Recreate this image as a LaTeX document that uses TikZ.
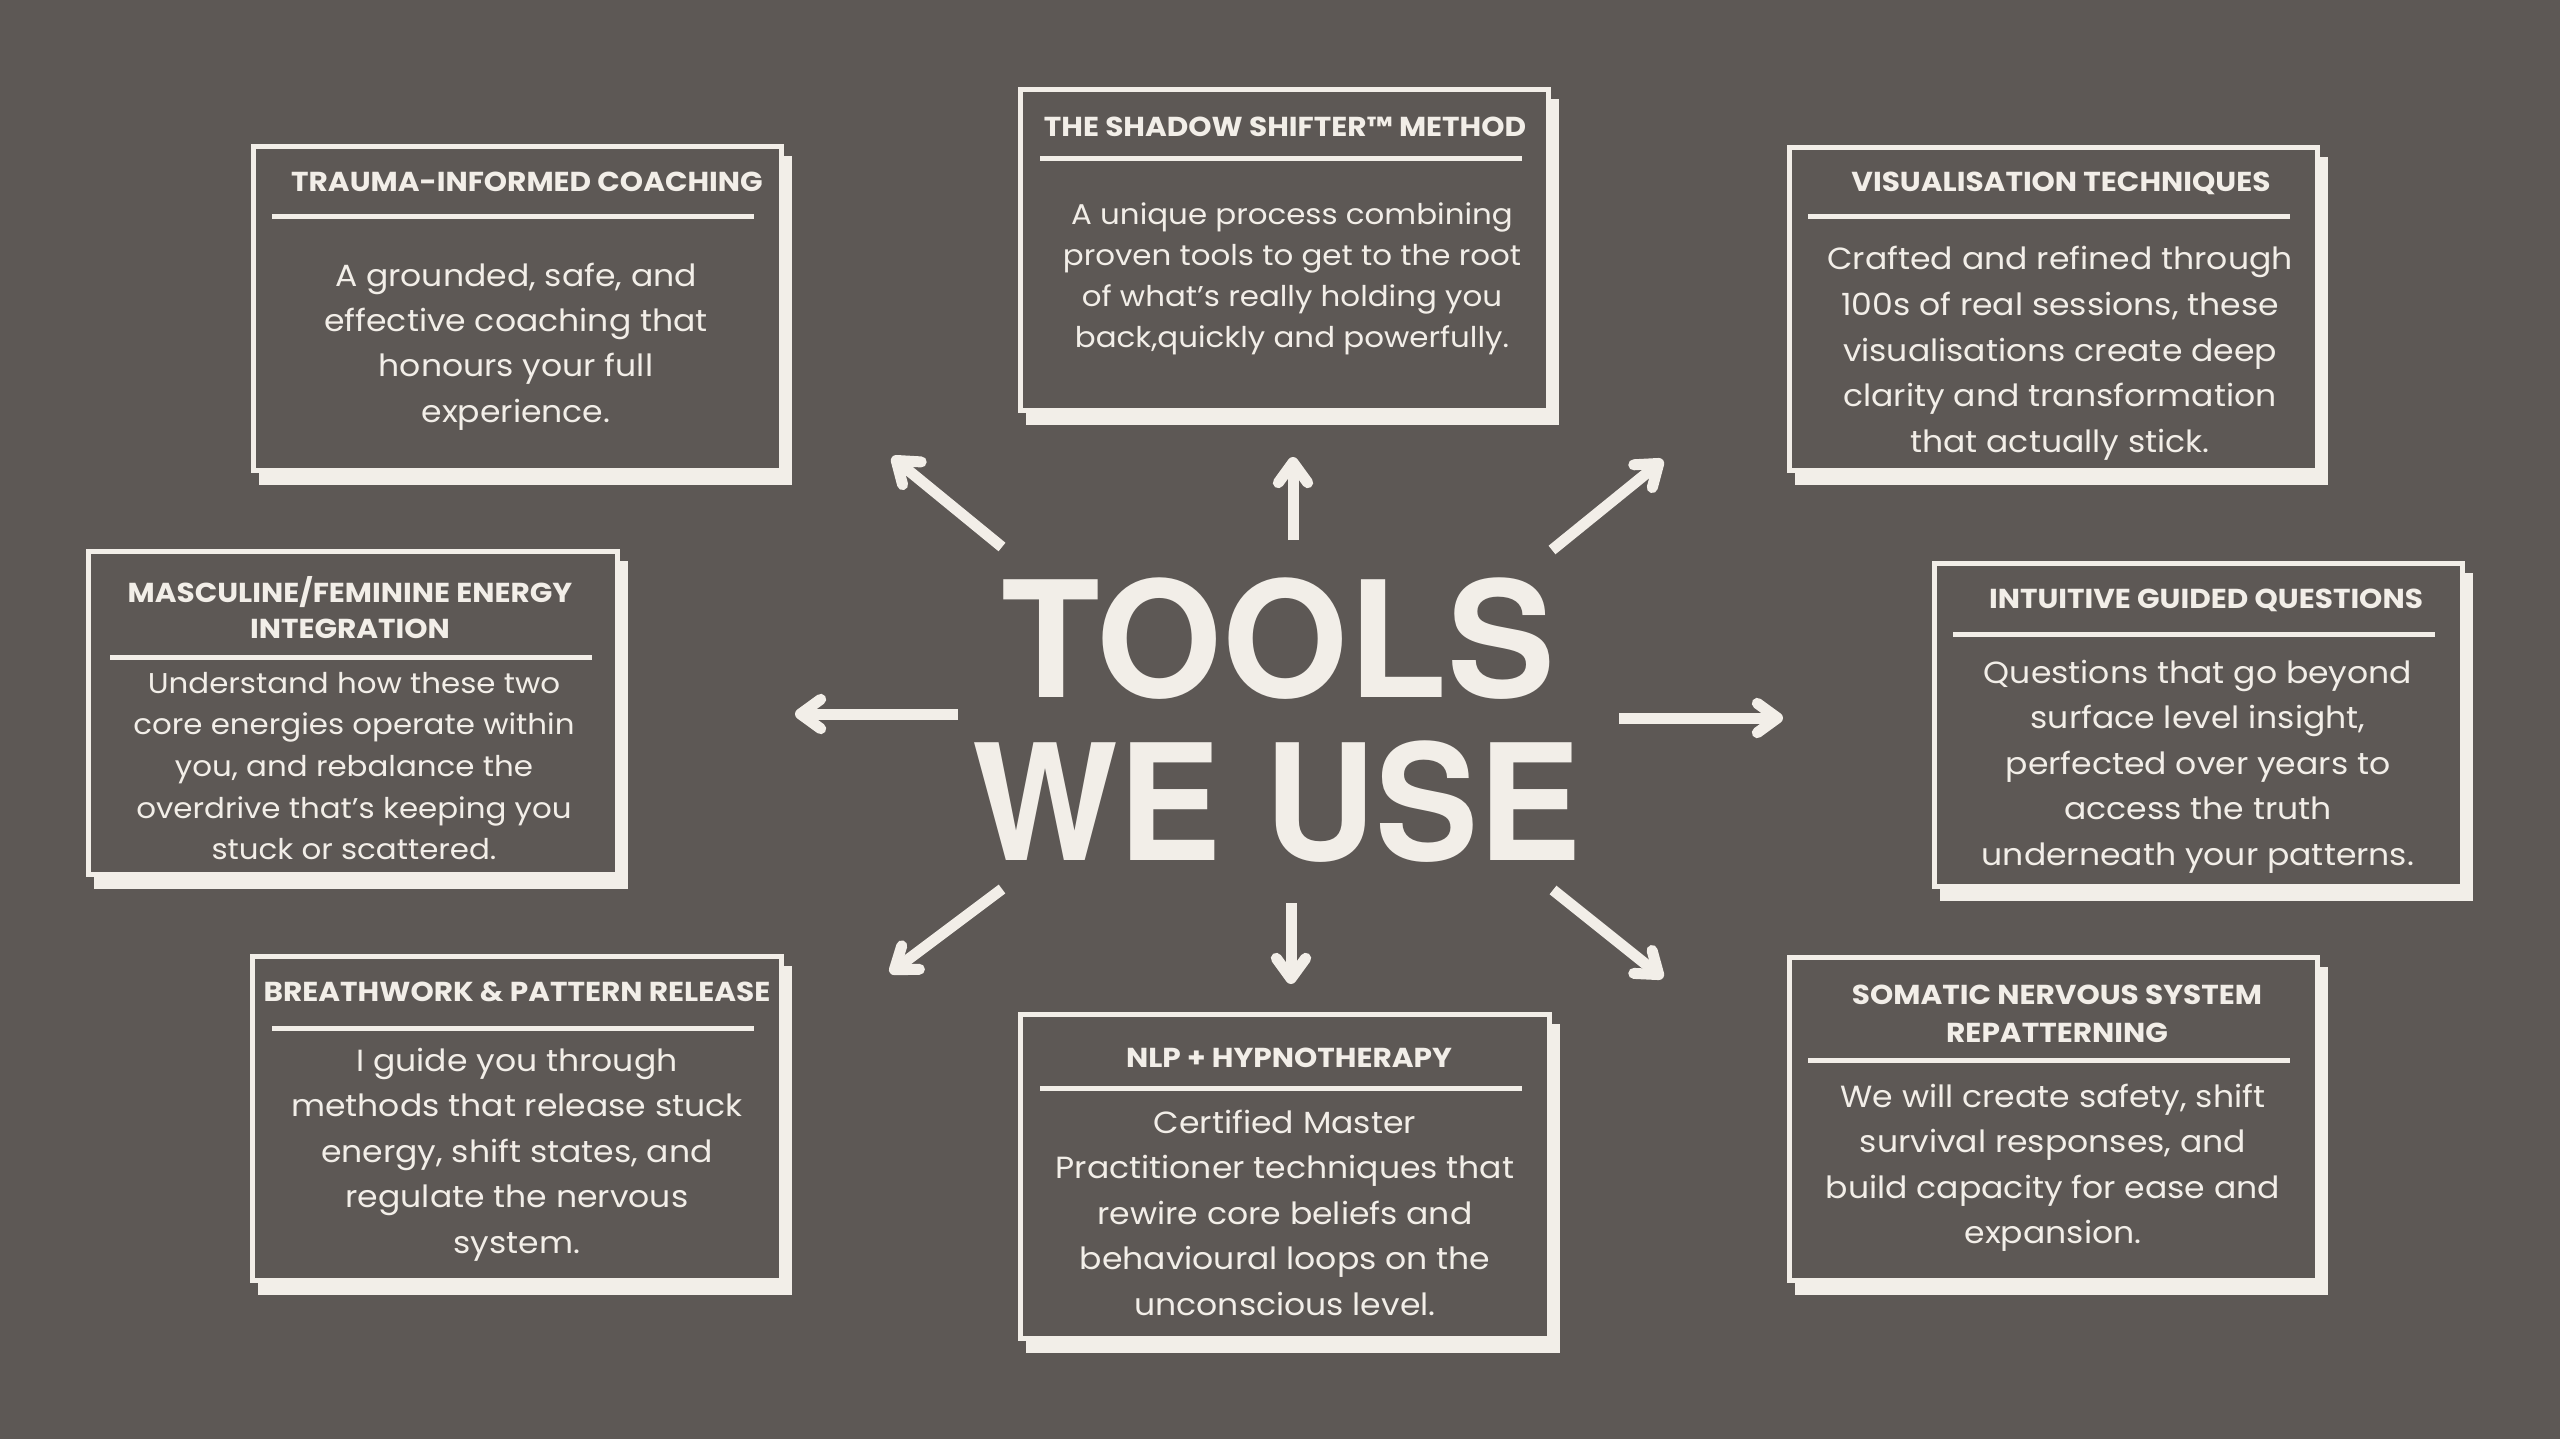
\documentclass[tikz,border=0pt]{standalone}
\usepackage{fontspec}
\setmainfont{Poppins}[FakeStretch=1.08]
\newfontfamily\headfont{TeX Gyre Heros}
\usetikzlibrary{calc}
\definecolor{bg}{HTML}{5D5855}
\definecolor{cream}{HTML}{F2EEE8}
\tikzset{
  shadowbox/.style={fill=cream, inner sep=0pt, outer sep=0pt},
  mainbox/.style={fill=bg, draw=cream, line width=5pt, inner sep=0pt, outer sep=0pt},
  rulebar/.style={draw=cream, line width=5pt},
  ttl/.style={text=cream, font=\fontsize{27.4}{31}\selectfont\bfseries, anchor=base, inner sep=0pt},
  bodyL/.style={text=cream, font=\fontsize{30.6}{36}\selectfont, anchor=base, inner sep=0pt},
  bodyS/.style={text=cream, font=\fontsize{28.6}{33}\selectfont, anchor=base, inner sep=0pt},
  shaft/.style={draw=cream, line width=11pt, line cap=butt},
  head/.style={draw=cream, line width=11pt, line cap=round, line join=round},
  bigword/.style={text=cream, anchor=base, inner sep=0pt, font=\headfont\bfseries\fontsize{161.6}{170}\selectfont},
}
% card: name, L, T, R, B
\newcommand\card[5]{%
  \node[shadowbox, minimum width={#4-#2}, minimum height={#5-#3}] (#1s) at ({(#2+#4)/2+8},{(#3+#5)/2+12}) {};
  \node[mainbox, minimum width={#4-#2-5}, minimum height={#5-#3-5}] (#1) at ({(#2+#4)/2},{(#3+#5)/2}) {};
}
% arrow: tail, tip
\newcommand\pointer[2]{%
  \coordinate (#2c) at ($(#2)!5.5pt!(#1)$);
  \draw[shaft] (#1) -- (#2c);
  \draw[head] ($(#2c)!25pt!36:(#1)$) -- (#2c) -- ($(#2c)!25pt!-36:(#1)$);
}
\begin{document}
\begin{tikzpicture}[x=1pt,y=-1pt]
\fill[bg] (0,0) rectangle (2560,1439);
\useasboundingbox (0,0) rectangle (2560,1439);

% ---------- cards ----------
\card{b1}{251}{144}{784}{473}
\card{b2}{1018}{87}{1551}{413}
\card{b3}{1787}{145}{2320}{473}
\card{b4}{86}{549}{620}{877}
\card{b5}{1932}{561}{2465}{889}
\card{b6}{250}{954}{784}{1283}
\card{b7}{1018}{1012}{1552}{1341}
\card{b8}{1787}{955}{2320}{1283}

% ---------- header rules ----------
\draw[rulebar] (272,217) -- (754,217);
\draw[rulebar] (1040,159) -- (1522,159);
\draw[rulebar] (1808,217) -- (2290,217);
\draw[rulebar] (110,657) -- (592,657);
\draw[rulebar] (1953,634) -- (2435,634);
\draw[rulebar] (272,1028) -- (754,1028);
\draw[rulebar] (1040,1088) -- (1522,1088);
\draw[rulebar] (1808,1060) -- (2290,1060);

% ---------- titles ----------
\node[ttl] (b1h) at (527,192) {TRAUMA-INFORMED COACHING};
\node[ttl] (b2h) at (1285,137) {THE SHADOW SHIFTER™ METHOD};
\node[ttl] (b3h) at (2061,192) {VISUALISATION TECHNIQUES};
\node[ttl] (b4h) at (350,602) {MASCULINE/FEMININE ENERGY};
\node[ttl] (b4h2) at (350,638) {INTEGRATION};
\node[ttl] (b5h) at (2206,608) {INTUITIVE GUIDED QUESTIONS};
\node[ttl] (b6h) at (517,1001) {BREATHWORK \& PATTERN RELEASE};
\node[ttl] (b7h) at (1289,1067) {NLP + HYPNOTHERAPY};
\node[ttl] (b8h) at (2057,1004) {SOMATIC NERVOUS SYSTEM};
\node[ttl] (b8h2) at (2057,1042) {REPATTERNING};

% ---------- body texts ----------
\foreach \t [count=\i from 0] in {{A grounded, safe, and},{effective coaching that},{honours your full},{experience.}}
  \node[bodyL] (b1t\i) at (516,{287+45*\i}) {\t};
\foreach \t [count=\i from 0] in {{A unique process combining},{proven tools to get to the root},{of what’s really holding you},{back,quickly and powerfully.}}
  \node[bodyS] (b2t\i) at (1292,{225+41*\i}) {\t};
\foreach \t [count=\i from 0] in {{Crafted and refined through},{100s of real sessions, these},{visualisations create deep},{clarity and transformation},{that actually stick.}}
  \node[bodyL] (b3t\i) at (2060,{270+45.5*\i}) {\t};
\foreach \t [count=\i from 0] in {{Understand how these two},{core energies operate within},{you, and rebalance the},{overdrive that’s keeping you},{stuck or scattered.}}
  \node[bodyS] (b4t\i) at (354,{693+41.7*\i}) {\t};
\foreach \t [count=\i from 0] in {{Questions that go beyond},{surface level insight,},{perfected over years to},{access the truth},{underneath your patterns.}}
  \node[bodyL] (b5t\i) at (2198,{683+45.5*\i}) {\t};
\foreach \t [count=\i from 0] in {{I guide you through},{methods that release stuck},{energy, shift states, and},{regulate the nervous},{system.}}
  \node[bodyL] (b6t\i) at (517,{1071+45.5*\i}) {\t};
\foreach \t [count=\i from 0] in {{Certified Master},{Practitioner techniques that},{rewire core beliefs and},{behavioural loops on the},{unconscious level.}}
  \node[bodyL] (b7t\i) at (1285,{1133+45.5*\i}) {\t};
\foreach \t [count=\i from 0] in {{We will create safety, shift},{survival responses, and},{build capacity for ease and},{expansion.}}
  \node[bodyL] (b8t\i) at (2053,{1107+45.6*\i}) {\t};

% ---------- centre title ----------
\node[bigword] (tools) at (1278,697) {TOOLS};
\node[bigword] (weuse) at (1277,860) {\scalebox{0.955}[1]{WE USE}};

% ---------- arrows ----------
\coordinate (ulT) at (1002,547);  \coordinate (ulH) at (892,457);
\coordinate (upT) at (1293,540);  \coordinate (upH) at (1293,457);
\coordinate (urT) at (1552,550);  \coordinate (urH) at (1663,460);
\coordinate (lfT) at (958,714);   \coordinate (lfH) at (795,714);
\coordinate (rtT) at (1619,718);  \coordinate (rtH) at (1783,718);
\coordinate (dlT) at (1002,889);  \coordinate (dlH) at (890,973);
\coordinate (dnT) at (1291,903);  \coordinate (dnH) at (1291,984);
\coordinate (drT) at (1553,890);  \coordinate (drH) at (1663,978);
\pointer{ulT}{ulH}
\pointer{upT}{upH}
\pointer{urT}{urH}
\pointer{lfT}{lfH}
\pointer{rtT}{rtH}
\pointer{dlT}{dlH}
\pointer{dnT}{dnH}
\pointer{drT}{drH}
\end{tikzpicture}
\end{document}
